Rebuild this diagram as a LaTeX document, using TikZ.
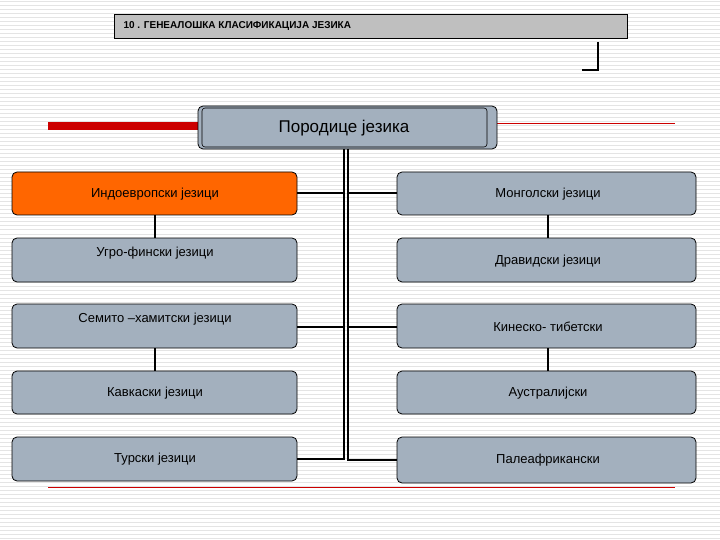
\documentclass[tikz,border=0pt]{standalone}
\usepackage{fontspec}
\setmainfont{Liberation Sans}
\begin{document}
\begin{tikzpicture}[x=1pt,y=-1pt,
  box/.style={draw=black,fill=boxgray,rounded corners=5pt,line width=0.8pt},
  lbl/.style={font=\fontsize{13}{15}\selectfont},
  conn/.style={line width=1.6pt}]
\definecolor{boxgray}{HTML}{A3B0BE}
\definecolor{stripe}{HTML}{E4E4E4}
\definecolor{orng}{HTML}{FF6600}
\definecolor{redd}{HTML}{CC0000}
\useasboundingbox (0,0) rectangle (720,540);
\fill[white] (0,0) rectangle (720,540);
\foreach \y in {2,6,...,538} \draw[stripe,line width=1pt] (0,\y) -- (720,\y);
% title
\node[draw=black,line width=1pt,fill=gray!50,minimum width=513pt,minimum height=24pt,anchor=north west,inner sep=0pt] (title) at (114,14) {};
\node[anchor=west,font=\bfseries\fontsize{10}{12}\selectfont] (tt) at (120,26) {10 . ГЕНЕАЛОШКА КЛАСИФИКАЦИЈА ЈЕЗИКА};
\coordinate (b1) at (598,42); \coordinate (b2) at (598,70); \coordinate (b3) at (582,70);
\draw[line width=1.6pt] (b1) -- (b2) -- (b3);
% red lines
\coordinate (r1) at (48,126); \coordinate (r2) at (200,126);
\draw[redd,line width=8pt] (r1) -- (r2);
\coordinate (r3) at (497,123); \coordinate (r4) at (675,123);
\draw[redd,line width=0.6pt] (r3) -- (r4);
\coordinate (r5) at (48,487); \coordinate (r6) at (675,487);
\draw[redd,line width=0.6pt] (r5) -- (r6);
% root
\draw[box] (198,106) rectangle (497,149);
\draw[black,line width=0.6pt,rounded corners=3pt] (202,108) rectangle (487,147);
\node[lbl,font=\fontsize{17}{19}\selectfont] (root) at (344,128) {Породице језика};
% left boxes
\draw[box,fill=orng] (12,172) rectangle (297,215); \node[lbl] (L1) at (155,194) {Индоевропски језици};
\draw[box] (12,238) rectangle (297,282); \node[lbl] (L2) at (155,253) {Угро-фински језици};
\draw[box] (12,304) rectangle (297,348); \node[lbl] (L3) at (155,319) {Семито –хамитски језици};
\draw[box] (12,371) rectangle (297,414); \node[lbl] (L4) at (155,393) {Кавкаски језици};
\draw[box] (12,437) rectangle (297,481); \node[lbl] (L5) at (155,459) {Турски језици};
% right boxes
\draw[box] (397,172) rectangle (696,215); \node[lbl] (R1) at (548,194) {Монголски језици};
\draw[box] (397,238) rectangle (696,282); \node[lbl] (R2) at (548,261) {Дравидски језици};
\draw[box] (397,304) rectangle (696,348); \node[lbl] (R3) at (548,327) {Кинеско- тибетски};
\draw[box] (397,371) rectangle (696,414); \node[lbl] (R4) at (548,393) {Аустралијски};
\draw[box] (397,437) rectangle (696,483); \node[lbl] (R5) at (548,460) {Палеафрикански};
% connectors
\draw[conn] (344,149) -- (344,459) -- (297,459);
\draw[conn] (348,149) -- (348,460) -- (397,460);
\draw[conn] (297,193) -- (344,193); \draw[conn] (348,193) -- (397,193);
\draw[conn] (297,327) -- (344,327); \draw[conn] (348,327) -- (397,327);
\draw[conn] (155,215) -- (155,238); \draw[conn] (155,348) -- (155,371);
\draw[conn] (548,215) -- (548,238); \draw[conn] (548,348) -- (548,371);
\end{tikzpicture}
\end{document}
